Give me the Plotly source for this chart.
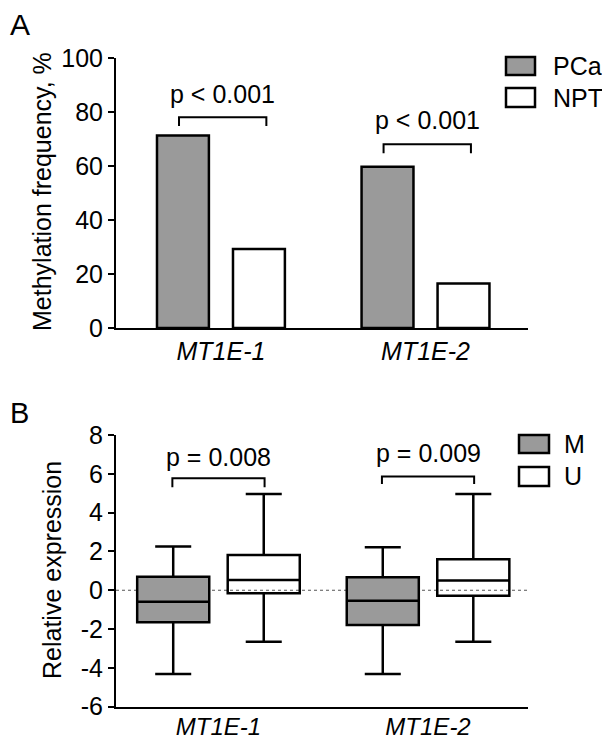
import plotly.graph_objects as go

# ---------------- data ----------------
genes = ["MT1E-1", "MT1E-2"]
gene_labels = ["<i>MT1E-1</i>", "<i>MT1E-2</i>"]

# Panel A: methylation frequency (%)
pca_freq = [71.3, 59.7]
npt_freq = [29.3, 16.5]
pA_text = ["p < 0.001", "p < 0.001"]
pA_bracket_y = [78.1, 68.1]
pA_bracket_foot = [74.8, 64.7]
pA_text_y = [86.6, 77.0]

# Panel B: relative expression boxes (M = methylated, U = unmethylated)
m_low = [-4.31, -4.31]
m_q1 = [-1.65, -1.79]
m_med = [-0.59, -0.54]
m_q3 = [0.70, 0.67]
m_high = [2.25, 2.22]

u_low = [-2.65, -2.65]
u_q1 = [-0.15, -0.28]
u_med = [0.53, 0.50]
u_q3 = [1.82, 1.60]
u_high = [4.96, 4.96]

pB_text = ["p = 0.008", "p = 0.009"]
pB_bracket_y = [5.77, 5.86]
pB_bracket_foot = [5.31, 5.48]
pB_text_y = [6.85, 7.05]

yA_ticks = [0, 20, 40, 60, 80, 100]
yB_ticks = [-6, -4, -2, 0, 2, 4, 6, 8]

# ---------------- style ----------------
FONT = "Arial, 'Liberation Sans', sans-serif"
GRAY = "#9a9a9a"
OFF = 8  # page body margin offset
W, H = 610 - 2 * OFF, 747 - 2 * OFF
FS = 25
LW = 2.5


def px_x(p):
    return (p - OFF) / W


def px_y(p):
    return 1 - (p - OFF) / H


fig = go.Figure()

fig.add_trace(go.Bar(x=genes, y=pca_freq, name="PCa", marker=dict(color=GRAY, line=dict(color="black", width=LW)),
                     xaxis="x", yaxis="y", showlegend=False))
fig.add_trace(go.Bar(x=genes, y=npt_freq, name="NPT", marker=dict(color="white", line=dict(color="black", width=LW)),
                     xaxis="x", yaxis="y", showlegend=False))

fig.add_trace(go.Box(x=genes, q1=m_q1, median=m_med, q3=m_q3, lowerfence=m_low, upperfence=m_high,
                     name="M", fillcolor=GRAY, line=dict(color="black", width=LW), boxpoints=False,
                     whiskerwidth=0.5, xaxis="x2", yaxis="y2", showlegend=False))
fig.add_trace(go.Box(x=genes, q1=u_q1, median=u_med, q3=u_q3, lowerfence=u_low, upperfence=u_high,
                     name="U", fillcolor="rgba(255,255,255,0)", line=dict(color="black", width=LW), boxpoints=False,
                     whiskerwidth=0.5, xaxis="x2", yaxis="y2", showlegend=False))

xdom = [px_x(116), px_x(528)]
axis_common = dict(showline=True, linecolor="black", linewidth=2, showgrid=False, zeroline=False,
                   automargin=False)

fig.update_layout(
    width=W, height=H,
    margin=dict(l=0, r=0, t=0, b=0, autoexpand=False),
    showlegend=False,
    paper_bgcolor="white", plot_bgcolor="white",
    barmode="group", bargap=0.257, bargroupgap=0.317,
    boxmode="group", boxgap=0.136, boxgroupgap=0.204,
    font=dict(family=FONT, size=FS, color="black"),
    xaxis=dict(domain=xdom, anchor="y", type="category", range=[-0.513, 1.501],
               tickvals=genes, ticktext=gene_labels, ticks="",
               tickfont=dict(family=FONT, size=FS, color="black"), **axis_common),
    yaxis=dict(domain=[px_y(328), px_y(58)], anchor="x", range=[0, 100], tickvals=yA_ticks,
               ticktext=[str(v) for v in yA_ticks],
               ticks="outside", ticklen=6, tickwidth=2, tickcolor="black",
               tickfont=dict(family=FONT, size=FS, color="black"), **axis_common),
    xaxis2=dict(domain=xdom, anchor="y2", type="category", range=[-0.489, 1.477],
                tickvals=genes, ticktext=gene_labels, ticks="", ticklabelstandoff=-3,
                tickfont=dict(family=FONT, size=24, color="black"), **axis_common),
    yaxis2=dict(domain=[px_y(706.7), px_y(435)], anchor="x2", range=[-6, 8], tickvals=yB_ticks,
                ticktext=[str(v) for v in yB_ticks],
                ticks="outside", ticklen=6, tickwidth=2, tickcolor="black",
                tickfont=dict(family=FONT, size=FS, color="black"), **axis_common),
)

shapes = []
annotations = []

# zero reference line in B
shapes.append(dict(type="line", xref="x2 domain", yref="y2", x0=0, x1=1, y0=0, y1=0,
                   line=dict(color="#555555", width=1.2, dash="dot"), layer="below"))

# significance brackets
for i in range(len(genes)):
    xa, xb = i - 0.205, i + 0.222
    shapes.append(dict(type="path", xref="x", yref="y",
                       path=f"M{xa},{pA_bracket_foot[i]} L{xa},{pA_bracket_y[i]} L{xb},{pA_bracket_y[i]} L{xb},{pA_bracket_foot[i]}",
                       line=dict(color="black", width=2)))
    annotations.append(dict(xref="x", yref="y", x=i + 0.01, y=pA_text_y[i], text=pA_text[i], showarrow=False,
                            xanchor="center", yanchor="middle", font=dict(size=FS)))
    xa, xb = i - 0.22, i + 0.22
    shapes.append(dict(type="path", xref="x2", yref="y2",
                       path=f"M{xa},{pB_bracket_foot[i]} L{xa},{pB_bracket_y[i]} L{xb},{pB_bracket_y[i]} L{xb},{pB_bracket_foot[i]}",
                       line=dict(color="black", width=2)))
    annotations.append(dict(xref="x2", yref="y2", x=i, y=pB_text_y[i], text=pB_text[i], showarrow=False,
                            xanchor="center", yanchor="middle", font=dict(size=FS)))

# manual legends
legends = [
    ("PCa", GRAY, 506, 535, 57, 75, 551),
    ("NPT", "white", 506, 535, 88, 107, 551),
    ("M", GRAY, 519, 549, 435, 453, 562),
    ("U", "white", 519, 549, 467, 486, 562),
]
for name, col, x0, x1, y0, y1, tx in legends:
    shapes.append(dict(type="rect", xref="paper", yref="paper", x0=px_x(x0), x1=px_x(x1), y0=px_y(y1), y1=px_y(y0),
                       fillcolor=col, line=dict(color="black", width=LW)))
    annotations.append(dict(xref="paper", yref="paper", x=px_x(tx), y=px_y((y0 + y1) / 2), text=name,
                            showarrow=False, xanchor="left", yanchor="middle", font=dict(size=FS)))

# axis titles
annotations.append(dict(xref="paper", yref="paper", x=px_x(42), y=px_y(192), text="Methylation frequency, %",
                        textangle=-90, showarrow=False, xanchor="center", yanchor="middle", font=dict(size=FS)))
annotations.append(dict(xref="paper", yref="paper", x=px_x(52), y=px_y(570), text="Relative expression",
                        textangle=-90, showarrow=False, xanchor="center", yanchor="middle", font=dict(size=FS)))

# panel letters
annotations.append(dict(xref="paper", yref="paper", x=px_x(8), y=px_y(24), text="A", showarrow=False,
                        xanchor="left", yanchor="middle", font=dict(size=30)))
annotations.append(dict(xref="paper", yref="paper", x=px_x(8), y=px_y(413), text="B", showarrow=False,
                        xanchor="left", yanchor="middle", font=dict(size=29)))

fig.update_layout(shapes=shapes, annotations=annotations)

fig.write_html("out.html")
